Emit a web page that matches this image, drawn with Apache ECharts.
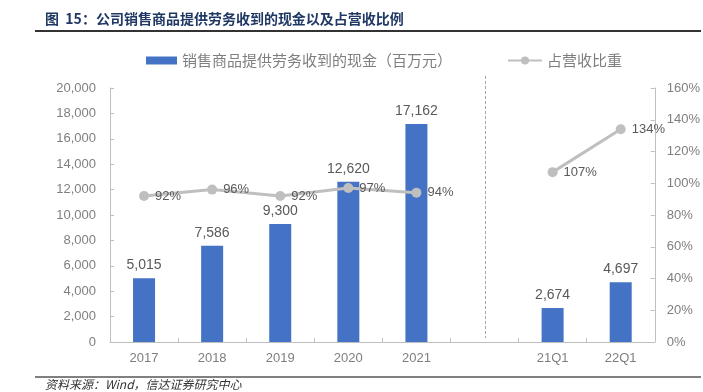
<!DOCTYPE html>
<html>
<head>
<meta charset="utf-8">
<script src="https://cdn.jsdelivr.net/npm/echarts@6/dist/echarts.min.js"></script>
<style>
html,body{margin:0;padding:0;background:#fff;}
#c{width:703px;height:392px;}
</style>
</head>
<body>
<div id="c"></div>
<script>
var categories = ['2017', '2018', '2019', '2020', '2021', '', '21Q1', '22Q1'];
var cashValues = [5015, 7586, 9300, 12620, 17162, null, 2674, 4697];
var ratioValues = [92, 96, 92, 97, 94, null, 107, 134];
var leftTicks = { min: 0, max: 20000, interval: 2000 };
var rightTicks = { min: 0, max: 160, interval: 20 };
var barName = '销售商品提供劳务收到的现金（百万元）';
var lineName = '占营收比重';
var titleText = '图  15：公司销售商品提供劳务收到的现金以及占营收比例';
var sourceText = '资料来源：Wind，信达证券研究中心';

var FONT = '"Liberation Sans", "Noto Sans CJK SC", sans-serif';
var CJK = '"Noto Sans CJK SC", sans-serif';
var chart = echarts.init(document.getElementById('c'), null, { renderer: 'canvas' });

function fmt(v) { return v.toLocaleString('en-US'); }

var option = {
  animation: false,
  backgroundColor: '#fff',
  grid: { left: 110, right: 48, top: 88, bottom: 50, containLabel: false },
  legend: [
    {
      data: [{ name: barName, icon: 'rect' }],
      left: 141, top: 48,
      itemWidth: 31, itemHeight: 8,
      textStyle: { color: '#7f7f7f', fontSize: 15, fontFamily: CJK }
    },
    {
      data: [{ name: lineName }],
      left: 502, top: 48,
      itemWidth: 34, itemHeight: 10,
      textStyle: { color: '#7f7f7f', fontSize: 15, fontFamily: CJK }
    }
  ],
  xAxis: {
    type: 'category',
    data: categories,
    axisLine: { lineStyle: { color: '#bfbfbf', width: 1 } },
    axisTick: { show: true, inside: true, length: 4, lineStyle: { color: '#bfbfbf' } },
    axisLabel: { color: '#7f7f7f', fontSize: 13, fontFamily: FONT, margin: 10 }
  },
  yAxis: [
    {
      type: 'value',
      min: leftTicks.min, max: leftTicks.max, interval: leftTicks.interval,
      splitLine: { show: false },
      axisLine: { show: true, lineStyle: { color: '#bfbfbf' } },
      axisTick: { show: true, inside: true, length: 4, lineStyle: { color: '#bfbfbf' } },
      axisLabel: { color: '#7f7f7f', fontSize: 13, fontFamily: FONT, margin: 14, formatter: function (v) { return fmt(v); } }
    },
    {
      type: 'value',
      min: rightTicks.min, max: rightTicks.max, interval: rightTicks.interval,
      splitLine: { show: false },
      axisLine: { show: true, lineStyle: { color: '#bfbfbf' } },
      axisTick: { show: true, inside: true, length: 4, lineStyle: { color: '#bfbfbf' } },
      axisLabel: { color: '#7f7f7f', fontSize: 13, fontFamily: FONT, margin: 12, formatter: '{value}%' }
    }
  ],
  series: [
    {
      name: barName,
      type: 'bar',
      data: cashValues,
      barWidth: 22,
      itemStyle: { color: '#4472c4' },
      label: {
        show: true, position: 'top', distance: 6,
        color: '#595959', fontSize: 14, fontFamily: FONT,
        formatter: function (p) { return p.value == null ? '' : fmt(p.value); }
      }
    },
    {
      name: lineName,
      type: 'line',
      yAxisIndex: 1,
      data: ratioValues,
      connectNulls: false,
      symbol: 'circle',
      symbolSize: 10,
      lineStyle: { color: '#bfbfbf', width: 3 },
      itemStyle: { color: '#bfbfbf' },
      label: {
        show: true, position: 'right', distance: 6,
        color: '#595959', fontSize: 13, fontFamily: FONT,
        formatter: function (p) { return p.value == null ? '' : p.value + '%'; }
      }
    }
  ],
  graphic: [
    {
      type: 'text', left: 45, top: 12,
      style: { text: titleText, fill: '#1f3864', font: 'bold 14px ' + CJK }
    },
    {
      type: 'line', shape: { x1: 35, y1: 31, x2: 701, y2: 31 },
      style: { stroke: '#333333', lineWidth: 2 }
    },
    {
      type: 'line', shape: { x1: 35, y1: 377, x2: 701, y2: 377 },
      style: { stroke: '#808080', lineWidth: 2 }
    },
    {
      type: 'text', left: 45, top: 378,
      style: { text: sourceText, fill: '#333333', font: 'italic 12px ' + CJK }
    }
  ]
};
chart.setOption(option);

// dashed separator at the blank category
var px = chart.convertToPixel({ xAxisIndex: 0 }, 5);
chart.setOption({
  graphic: option.graphic.concat([{
    type: 'line',
    shape: { x1: Math.round(px) + 0.5, y1: 76, x2: Math.round(px) + 0.5, y2: 338 },
    style: { stroke: '#a6a6a6', lineWidth: 1, lineDash: [3, 2] }
  }])
});
</script>
</body>
</html>
